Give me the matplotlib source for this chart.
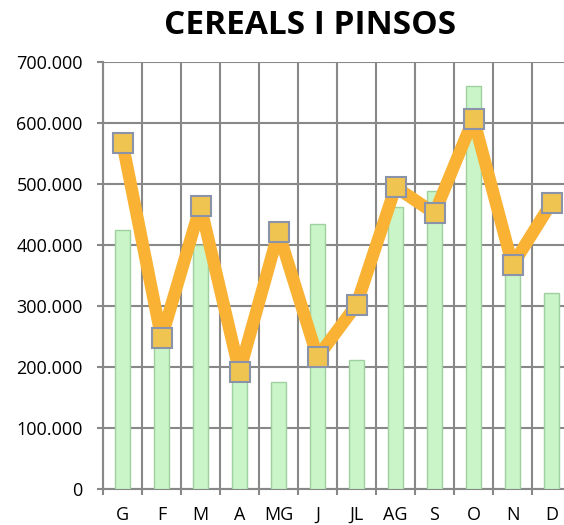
import matplotlib
matplotlib.use("Agg")
import matplotlib.pyplot as plt
import numpy as np
from matplotlib.ticker import FuncFormatter, FixedLocator

months = ["G", "F", "M", "A", "MG", "J", "JL", "AG", "S", "O", "N", "D"]
bar_values = [425000, 255000, 400000, 188000, 175000, 434000, 211000, 462000, 488000, 660000, 370000, 321000]
line_values = [567000, 247000, 464000, 192000, 421000, 216000, 302000, 495000, 452000, 607000, 367000, 469000]
yticks = [0, 100000, 200000, 300000, 400000, 500000, 600000, 700000]

plt.rcParams['font.family'] = ['Open Sans', 'DejaVu Sans']

fig = plt.figure(figsize=(5.64, 5.25), dpi=100)
ax = fig.add_axes([103/564, 36/525, 468/564, 427/525])

x = np.arange(len(months))
ax.bar(x, bar_values, width=0.38, color="#c9f5c9", edgecolor="#9fd09f", linewidth=1.0, zorder=3)
ax.plot(x, line_values, color="#f9b233", linewidth=9, solid_joinstyle="round",
        solid_capstyle="round", zorder=4)
ax.plot(x, line_values, linestyle="none", marker="s", markersize=14,
        markerfacecolor="#efc451", markeredgecolor="#8a93a8", markeredgewidth=1.5, zorder=5)

ax.set_xlim(-0.5, len(months) - 0.5)
ax.set_ylim(0, 700000)
ax.yaxis.set_major_locator(FixedLocator(yticks))
ax.yaxis.set_major_formatter(FuncFormatter(lambda v, p: "0" if v == 0 else f"{int(v):,}".replace(",", ".")))
ax.set_xticks(x)
ax.set_xticklabels(months)
ax.set_xticks(np.arange(-0.5, len(months), 1), minor=True)
ax.tick_params(axis="x", which="major", length=0, pad=12, labelsize=13)
ax.tick_params(axis="x", which="minor", length=4.5, color="#888888", width=1.5)
ax.tick_params(axis="y", length=4.5, color="#888888", width=1.5, labelsize=13, pad=10)

ax.grid(True, axis="y", color="#888888", linewidth=1.5, zorder=0)
ax.grid(True, axis="x", which="minor", color="#888888", linewidth=1.5, zorder=0)
for s in ["top", "right"]:
    ax.spines[s].set_visible(False)
ax.spines["left"].set_color("#888888")
ax.spines["left"].set_linewidth(1.5)
ax.spines["bottom"].set_color("#888888")
ax.spines["bottom"].set_linewidth(1.5)
ax.set_axisbelow(True)

fig.text(310/564, 1 - 25/525, "CEREALS I PINSOS", ha="center", va="center",
         fontsize=24, fontweight="bold")

fig.savefig("out.png", dpi=100)
